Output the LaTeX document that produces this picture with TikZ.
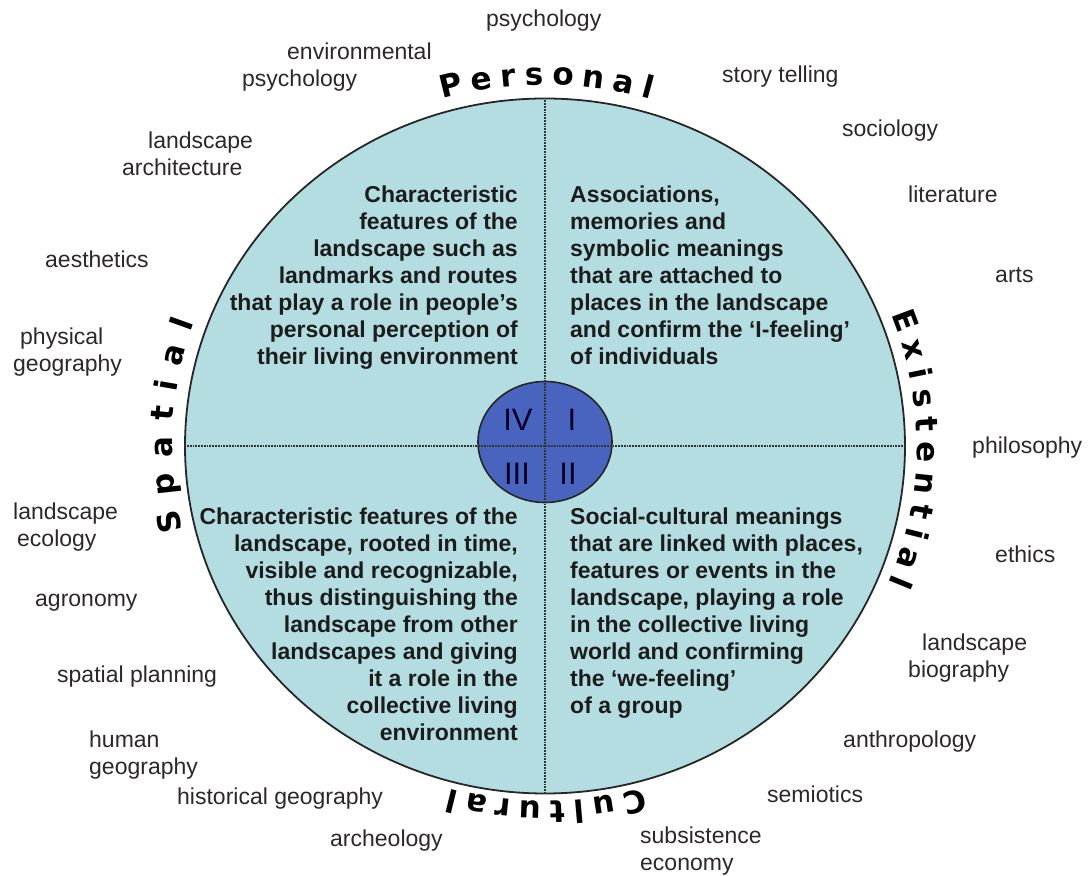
\documentclass[tikz,border=0pt]{standalone}
\usepackage{fontspec}
\setmainfont{Liberation Sans}
\newfontfamily\ringfamily{DejaVu Sans}
\usepackage{tikz}
\usetikzlibrary{calc,shapes.geometric,decorations.text}

\definecolor{discfill}{RGB}{180,221,226}
\definecolor{corefill}{RGB}{72,100,190}
\definecolor{inktext}{RGB}{28,28,28}
\definecolor{fieldtext}{RGB}{45,40,40}

\newcommand{\ringfont}{\ringfamily\fontsize{31}{31}\selectfont\bfseries}

\begin{document}
\begin{tikzpicture}[x=1pt, y=1pt,
    quad/.style={font=\fontsize{23}{27}\selectfont\bfseries, text=inktext, inner sep=0pt},
    field/.style={font=\fontsize{23}{27}\selectfont, text=fieldtext, inner sep=0pt, anchor=base west, align=left},
    numeral/.style={font=\fontsize{31}{31}\selectfont, text=black!85!blue, inner sep=0pt},
    quadline/.style={densely dotted, line width=1.8pt, black!80}]
    \useasboundingbox (0,0) rectangle (1089,875);

    \node[ellipse, fill=discfill, draw=black!85, line width=1.8pt, minimum width=720pt, minimum height=695pt, inner sep=0pt] (outer) at (545,429) {};
    
    \node[ellipse, fill=corefill, draw=black!85, line width=1.6pt, minimum width=134pt, minimum height=121pt, inner sep=0pt] (core) at ($(outer) + (0, 4)$) {};
    
    \draw[quadline] (outer.north) -- (outer.south);
    \draw[quadline] (outer.west) -- (outer.east);
    
    % roman numbers in the core
    \node[numeral] (qiv) at ($(outer) + (-27, 26)$) {IV};
    \node[numeral] (qi) at ($(outer) + (27, 26)$) {I};
    \node[numeral] (qiii) at ($(outer) + (-28, -28)$) {III};
    \node[numeral] (qii) at ($(outer) + (23, -28)$) {II};
    
    % the four quadrants (base = last line)
    \node[quad, anchor=base east, align=right] (tl) at ($(outer) + (-27, 81)$) {Characteristic\\features of the\\landscape such as\\landmarks and routes\\that play a role in people's\\personal perception of\\their living environment};
    
    \node[quad, anchor=base west, align=left] (tr) at ($(outer) + (25, 81)$) {Associations,\\memories and\\symbolic meanings\\that are attached to\\places in the landscape\\and confirm the `I-feeling'\\of individuals};
    
    \node[quad, anchor=base east, align=right] (bl) at ($(outer) + (-27, -295)$) {Characteristic features of the\\landscape, rooted in time,\\visible and recognizable,\\thus distinguishing the\\landscape from other\\landscapes and giving\\it a role in the\\collective living\\environment};
    
    \node[quad, anchor=base west, align=left] (br) at ($(outer) + (25, -268)$) {Social-cultural meanings\\that are linked with places,\\features or events in the\\landscape, playing a role\\in the collective living\\world and confirming\\the `we-feeling'\\of a group};
    
    % words round the rim
    \path[decorate, decoration={text along path, text=|\ringfont|Personal, text align=fit to path}]
        ($(outer) + (105.9:373pt and 361pt)$) arc[start angle=105.9, end angle=73.6, x radius=373pt, y radius=361pt];
    \path[decorate, decoration={text along path, text=|\ringfont|Existential, text align=fit to path}]
        ($(outer) + (21.5:372pt and 360pt)$) arc[start angle=21.5, end angle=-22.5, x radius=372pt, y radius=360pt];
    \path[decorate, decoration={text along path, text=|\ringfont|Cultural, text align=fit to path}]
        ($(outer) + (-74.4:367pt and 355pt)$) arc[start angle=-74.4, end angle=-105.1, x radius=367pt, y radius=355pt];
    \path[decorate, decoration={text along path, text=|\ringfont|Spatial, text align=fit to path}]
        ($(outer) + (193.6:373pt and 360pt)$) arc[start angle=193.6, end angle=160, x radius=373pt, y radius=360pt];
    
    % disciplines (two-line ones sit on their last line)
    \node[field] (psy) at ($(outer) + (-59, 419)$) {psychology};
    \node[field] (envpsy) at ($(outer) + (-303, 359)$) {\hspace*{45pt}environmental\\psychology};
    \node[field] (landarch) at ($(outer) + (-423, 270)$) {\hspace*{26pt}landscape\\architecture};
    \node[field] (aest) at ($(outer) + (-500, 178)$) {aesthetics};
    \node[field] (physgeo) at ($(outer) + (-532, 74)$) {\hspace*{7pt}physical\\geography};
    \node[field] (landeco) at ($(outer) + (-532, -101)$) {landscape\\\hspace*{4pt}ecology};
    \node[field] (agro) at ($(outer) + (-510, -161)$) {agronomy};
    \node[field] (spplan) at ($(outer) + (-488, -237)$) {spatial planning};
    \node[field] (humgeo) at ($(outer) + (-456, -329)$) {human\\geography};
    \node[field] (histgeo) at ($(outer) + (-368, -359)$) {historical geography};
    \node[field] (arch) at ($(outer) + (-215, -401)$) {archeology};
    \node[field] (subs) at ($(outer) + (95, -424)$) {subsistence\\economy};
    \node[field] (semi) at ($(outer) + (222, -357)$) {semiotics};
    \node[field] (anthro) at ($(outer) + (298, -302)$) {anthropology};
    \node[field] (landbio) at ($(outer) + (363, -232)$) {\hspace*{14pt}landscape\\biography};
    \node[field] (eth) at ($(outer) + (450, -117)$) {ethics};
    \node[field] (philo) at ($(outer) + (427, -8)$) {philosophy};
    \node[field] (arts) at ($(outer) + (450, 163)$) {arts};
    \node[field] (lit) at ($(outer) + (363, 243)$) {literature};
    \node[field] (soc) at ($(outer) + (297, 309)$) {sociology};
    \node[field] (story) at ($(outer) + (177, 363)$) {story telling};
    
\end{tikzpicture}
\end{document}
